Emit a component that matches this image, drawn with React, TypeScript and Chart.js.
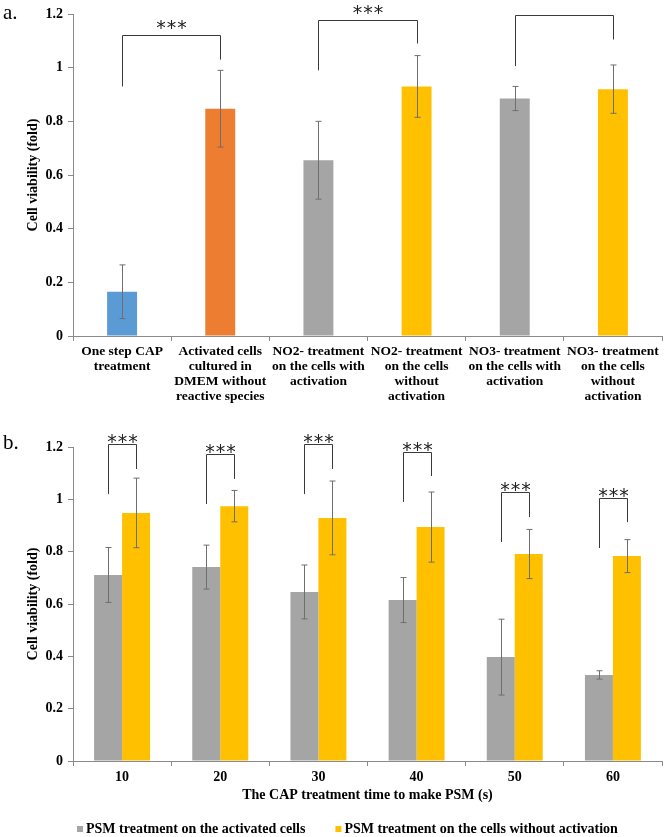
import React, { useEffect, useRef } from "react";
import { Chart, registerables } from "chart.js";
Chart.register(...registerables);

// ---------- Panel a data ----------
const categoriesA: string[][] = [
  ["One step CAP", "treatment"],
  ["Activated cells", "cultured in", "DMEM without", "reactive species"],
  ["NO2- treatment", "on the cells with", "activation"],
  ["NO2- treatment", "on the cells", "without", "activation"],
  ["NO3- treatment", "on the cells with", "activation"],
  ["NO3- treatment", "on the cells", "without", "activation"],
];
const valuesA = [0.165, 0.847, 0.655, 0.93, 0.885, 0.92];
const errorsA = [0.1, 0.143, 0.145, 0.115, 0.045, 0.09];
const colorsA = ["#5B9BD5", "#ED7D31", "#A5A5A5", "#FFC000", "#A5A5A5", "#FFC000"];
const bracketPairsA = [[0, 1], [2, 3], [4, 5]];
const bracketTopA = [1.12, 1.178, 1.196];
const bracketLeftEndA = [0.93, 0.99, 1.006];
const bracketRightEndA = [1.03, 1.09, 1.105];
const bracketLabelA = ["***", "***", ""];

// ---------- Panel b data ----------
const categoriesB = ["10", "20", "30", "40", "50", "60"];
const seriesNamesB = [
  "PSM treatment on the activated cells",
  "PSM treatment on the cells without activation",
];
const activatedB = [0.711, 0.741, 0.646, 0.615, 0.397, 0.329];
const activatedErrB = [0.105, 0.084, 0.103, 0.086, 0.145, 0.016];
const withoutB = [0.948, 0.974, 0.929, 0.894, 0.791, 0.783];
const withoutErrB = [0.133, 0.06, 0.141, 0.134, 0.094, 0.063];
const bracketTopB = [1.211, 1.173, 1.211, 1.181, 1.028, 1.005];
const bracketLeftEndB = [1.02, 0.982, 1.02, 0.99, 0.837, 0.814];
const bracketRightEndB = [1.116, 1.078, 1.116, 1.089, 0.932, 0.913];
const bracketLabelB = ["***", "***", "***", "***", "***", "***"];

const yMin = 0;
const yMax = 1.2;
const yStep = 0.2;

const SERIF = "'Liberation Serif', 'Times New Roman', serif";
const AXIS_COLOR = "#8a8a8a";
const STAR_SIZE = 19;

const errorBarPlugin = {
  id: "errorBars",
  afterDatasetsDraw(chart: any) {
    const ctx = chart.ctx;
    const y = chart.scales.y;
    ctx.save();
    ctx.strokeStyle = "#6f6f6f";
    ctx.lineWidth = 1;
    chart.data.datasets.forEach((ds: any, di: number) => {
      const meta = chart.getDatasetMeta(di);
      const errs: number[] = ds.errorBars || [];
      meta.data.forEach((el: any, i: number) => {
        const v = ds.data[i];
        const e = errs[i];
        if (e == null) return;
        const x = Math.round(el.x) + 0.5;
        const yt = y.getPixelForValue(v + e);
        const yb = y.getPixelForValue(v - e);
        ctx.beginPath();
        ctx.moveTo(x, yt);
        ctx.lineTo(x, yb);
        ctx.moveTo(x - 3, yt);
        ctx.lineTo(x + 3, yt);
        ctx.moveTo(x - 3, yb);
        ctx.lineTo(x + 3, yb);
        ctx.stroke();
      });
    });
    ctx.restore();
  },
};

function makeBracketPlugin(
  getEnds: (chart: any, i: number) => [number, number],
  tops: number[],
  leftEnds: number[],
  rightEnds: number[],
  labels: string[],
  starGap: number
) {
  return {
    id: "brackets",
    afterDatasetsDraw(chart: any) {
      const ctx = chart.ctx;
      const y = chart.scales.y;
      ctx.save();
      ctx.strokeStyle = "#3a3a3a";
      ctx.lineWidth = 1;
      tops.forEach((t, i) => {
        const [x1r, x2r] = getEnds(chart, i);
        const x1 = Math.round(x1r) + 0.5;
        const x2 = Math.round(x2r) + 0.5;
        const yt = Math.round(y.getPixelForValue(t)) + 0.5;
        ctx.beginPath();
        ctx.moveTo(x1, y.getPixelForValue(leftEnds[i]));
        ctx.lineTo(x1, yt);
        ctx.lineTo(x2, yt);
        ctx.lineTo(x2, y.getPixelForValue(rightEnds[i]));
        ctx.stroke();
        const lab = labels[i];
        if (lab) {
          ctx.fillStyle = "#222";
          ctx.font = STAR_SIZE + "px 'DejaVu Sans', sans-serif";
          ctx.textAlign = "center";
          ctx.textBaseline = "alphabetic";
          const mid = (x1 + x2) / 2;
          const cy = yt - starGap;
          const chars = lab.split("");
          const step = 10.5;
          chars.forEach((c, k) => {
            const cx = mid + (k - (chars.length - 1) / 2) * step;
            ctx.fillText(c, cx, cy + STAR_SIZE * 0.6);
          });
        }
      });
      ctx.restore();
    },
  };
}

function makePanelLabelPlugin(text: string, x: number, y: number) {
  return {
    id: "panelLabel",
    afterDraw(chart: any) {
      const ctx = chart.ctx;
      ctx.save();
      ctx.fillStyle = "#000";
      ctx.font = "21px " + SERIF;
      ctx.textAlign = "left";
      ctx.textBaseline = "alphabetic";
      ctx.fillText(text, x, y);
      ctx.restore();
    },
  };
}

const legendPlugin = {
  id: "customLegend",
  afterDraw(chart: any) {
    const ctx = chart.ctx;
    const cy = chart.height - 8;
    ctx.save();
    ctx.font = "bold 14px " + SERIF;
    ctx.textBaseline = "middle";
    ctx.textAlign = "left";
    let x = 77;
    chart.data.datasets.forEach((ds: any) => {
      ctx.fillStyle = ds.backgroundColor;
      ctx.fillRect(x, cy - 3, 6, 6);
      ctx.fillStyle = "#000";
      ctx.fillText(ds.label, x + 9, cy);
      x += 9 + ctx.measureText(ds.label).width + 30;
    });
    ctx.restore();
  },
};

function yScale(withTitle: boolean) {
  return {
    min: yMin,
    max: yMax,
    ticks: {
      stepSize: yStep,
      color: "#000",
      padding: 5,
      font: { family: SERIF, weight: "bold", size: 14 },
      callback: (v: any) => String(Number(Number(v).toFixed(1))),
    },
    grid: {
      drawOnChartArea: false,
      drawTicks: true,
      tickLength: 5,
      color: AXIS_COLOR,
    },
    border: { color: AXIS_COLOR, width: 1 },
    title: {
      display: withTitle,
      text: "Cell viability (fold)",
      color: "#000",
      font: { family: SERIF, weight: "bold", size: 14 },
      padding: { top: 25, bottom: 0 },
    },
    afterFit: (s: any) => {
      s.width = 73;
    },
  };
}

export default function App() {
  const refA = useRef<HTMLCanvasElement>(null);
  const refB = useRef<HTMLCanvasElement>(null);

  useEffect(() => {
    const chartA = new Chart(refA.current as HTMLCanvasElement, {
      type: "bar",
      data: {
        labels: categoriesA as any,
        datasets: [
          {
            data: valuesA,
            backgroundColor: colorsA,
            barPercentage: 0.305,
            categoryPercentage: 1,
            errorBars: errorsA,
          } as any,
        ],
      },
      options: {
        animation: false,
        responsive: false,
        layout: { padding: { top: 14, left: 0, right: 4, bottom: 0 } },
        plugins: { legend: { display: false }, tooltip: { enabled: false } },
        scales: {
          x: {
            ticks: {
              color: "#000",
              padding: 3,
              maxRotation: 0,
              minRotation: 0,
              autoSkip: false,
              font: { family: SERIF, weight: "bold", size: 13.5, lineHeight: 1.12 },
            },
            grid: {
              offset: true,
              drawOnChartArea: false,
              drawTicks: true,
              tickLength: 5,
              color: AXIS_COLOR,
            },
            border: { color: AXIS_COLOR, width: 1 },
            afterFit: (s: any) => {
              s.height = 79;
            },
          },
          y: yScale(true) as any,
        },
      } as any,
      plugins: [
        errorBarPlugin,
        makeBracketPlugin(
          (chart, i) => {
            const m = chart.getDatasetMeta(0);
            const [a, b] = bracketPairsA[i];
            return [m.data[a].x, m.data[b].x];
          },
          bracketTopA,
          bracketLeftEndA,
          bracketRightEndA,
          bracketLabelA,
          13
        ),
        makePanelLabelPlugin("a.", 3, 19),
      ],
    });

    const chartB = new Chart(refB.current as HTMLCanvasElement, {
      type: "bar",
      data: {
        labels: categoriesB,
        datasets: [
          {
            label: seriesNamesB[0],
            data: activatedB,
            backgroundColor: "#A5A5A5",
            barPercentage: 1,
            categoryPercentage: 0.57,
            errorBars: activatedErrB,
          } as any,
          {
            label: seriesNamesB[1],
            data: withoutB,
            backgroundColor: "#FFC000",
            barPercentage: 1,
            categoryPercentage: 0.57,
            errorBars: withoutErrB,
          } as any,
        ],
      },
      options: {
        animation: false,
        responsive: false,
        layout: { padding: { top: 27, left: 0, right: 4, bottom: 33 } },
        plugins: { legend: { display: false }, tooltip: { enabled: false } },
        scales: {
          x: {
            ticks: {
              color: "#000",
              padding: 3,
              maxRotation: 0,
              minRotation: 0,
              autoSkip: false,
              font: { family: SERIF, weight: "bold", size: 14 },
            },
            grid: {
              offset: true,
              drawOnChartArea: false,
              drawTicks: true,
              tickLength: 5,
              color: AXIS_COLOR,
            },
            border: { color: AXIS_COLOR, width: 1 },
            title: {
              display: true,
              text: "The CAP treatment time to make PSM (s)",
              color: "#000",
              font: { family: SERIF, weight: "bold", size: 14 },
              padding: { top: 0, bottom: 0 },
            },
            afterFit: (s: any) => {
              s.height = 43;
            },
          },
          y: yScale(true) as any,
        },
      } as any,
      plugins: [
        errorBarPlugin,
        makeBracketPlugin(
          (chart, i) => [chart.getDatasetMeta(0).data[i].x, chart.getDatasetMeta(1).data[i].x],
          bracketTopB,
          bracketLeftEndB,
          bracketRightEndB,
          bracketLabelB,
          8
        ),
        makePanelLabelPlugin("b.", 3, 29),
        legendPlugin,
      ],
    });

    return () => {
      chartA.destroy();
      chartB.destroy();
    };
  }, []);

  return (
    <div
      style={{
        position: "fixed",
        left: 0,
        top: 0,
        width: 666,
        height: 837,
        background: "#fff",
        overflow: "hidden",
      }}
    >
      <canvas
        ref={refA}
        width={666}
        height={415}
        style={{ position: "absolute", left: 0, top: 0, width: 666, height: 415 }}
      />
      <canvas
        ref={refB}
        width={666}
        height={417}
        style={{ position: "absolute", left: 0, top: 420, width: 666, height: 417 }}
      />
    </div>
  );
}
